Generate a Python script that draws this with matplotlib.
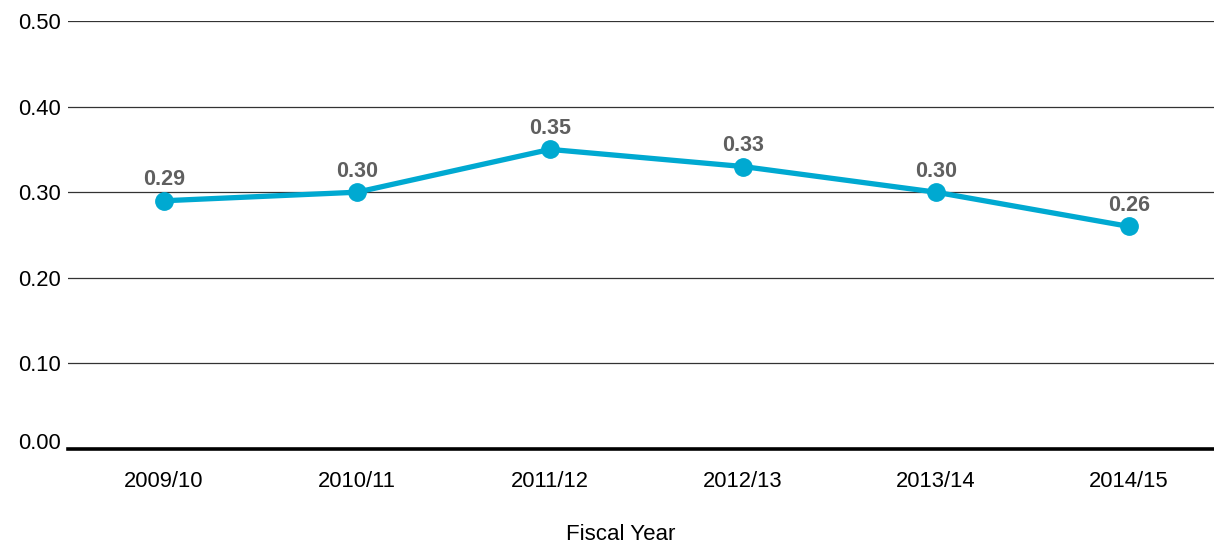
import matplotlib
matplotlib.use("Agg")
import matplotlib.pyplot as plt

plt.rcParams['font.family'] = ['Liberation Sans', 'DejaVu Sans']

years = ["2009/10", "2010/11", "2011/12", "2012/13", "2013/14", "2014/15"]
values = [0.29, 0.30, 0.35, 0.33, 0.30, 0.26]
yticks = [0.0, 0.1, 0.2, 0.3, 0.4, 0.5]
ytick_labels = ["0.00", "0.10", "0.20", "0.30", "0.40", "0.50"]

W, H = 1214, 544
fig = plt.figure(figsize=(W / 100, H / 100), dpi=100)
ax = fig.add_axes([67.5 / W, 95 / H, (1225.5 - 67.5) / W, (449 - 21) / H])

x = list(range(len(years)))
ax.set_xlim(-0.5, len(years) - 0.5)
ax.set_ylim(0, 0.5)

for yt in yticks[1:]:
    ax.axhline(yt, color="#333333", lw=0.9, zorder=1)
ax.axhline(0, color="black", lw=2.6, zorder=2, clip_on=False)

ax.plot(x, values, color="#00a9d1", lw=3.8, marker="o", markersize=12.5,
        zorder=3, clip_on=False)
for xi, v in zip(x, values):
    ax.annotate(f"{v:.2f}", (xi, v), xytext=(0, 21), textcoords="offset pixels",
                ha="center", va="center", fontsize=15.5, color="#5f5f5f",
                fontweight="bold")

for s in ax.spines.values():
    s.set_visible(False)

ax.set_xticks(x)
ax.set_xticklabels(years, fontsize=15.8)
ax.set_yticks(yticks)
ax.set_yticklabels(ytick_labels, fontsize=15.8)
ax.tick_params(axis="both", length=0)
ax.tick_params(axis="x", pad=16)
ax.tick_params(axis="y", pad=5)
lbls = ax.get_yticklabels()
lbls[0].set_va("baseline")

fig.text(621 / W, 1 - 535 / H, "Fiscal Year", ha="center", va="center", fontsize=16)

fig.savefig("out.png", dpi=100)
